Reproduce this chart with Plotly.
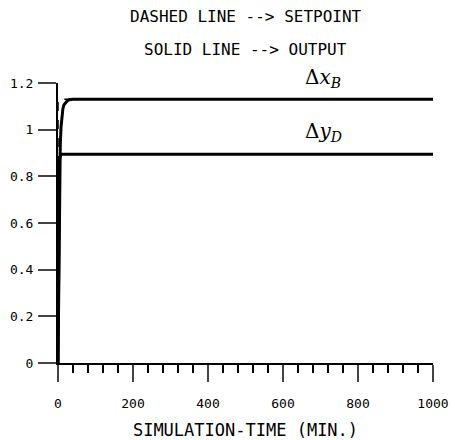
import plotly.graph_objects as go

# simulation time (min) and responses
time_out = [0, 1, 2, 3, 4, 5, 6, 8, 10, 13, 16, 20, 25, 30, 40, 60, 100, 300, 600, 1000]
xB_out = [0, 0.22, 0.42, 0.60, 0.74, 0.85, 0.93, 1.01, 1.06, 1.09, 1.107, 1.117, 1.124, 1.128, 1.13, 1.13, 1.13, 1.13, 1.13, 1.13]
yD_out = [0, 0.40, 0.67, 0.80, 0.865, 0.882, 0.89, 0.893, 0.895, 0.895, 0.895, 0.895, 0.895, 0.895, 0.895, 0.895, 0.895, 0.895, 0.895, 0.895]

time_sp = [0, 0, 1000]
xB_sp = [0, 1.13, 1.13]
yD_sp = [0, 0.895, 0.895]

x_ticks = [0, 200, 400, 600, 800, 1000]
y_ticks = [0, 0.2, 0.4, 0.6, 0.8, 1, 1.2]
y_ticklabels = ["0", "0.2", "0.4", "0.6", "0.8", "1", "1.2"]

mono = "DejaVu Sans Mono"

fig = go.Figure()
for y in (xB_out, yD_out):
    fig.add_trace(go.Scatter(x=time_out, y=y, mode="lines",
                             line=dict(color="black", width=3), showlegend=False))
for y in (xB_sp, yD_sp):
    fig.add_trace(go.Scatter(x=time_sp, y=y, mode="lines",
                             line=dict(color="black", width=1.5, dash="dash"), showlegend=False))

fig.update_layout(
    width=455, height=440,
    margin=dict(l=58, r=22, t=83, b=77),
    paper_bgcolor="white", plot_bgcolor="white",
    font=dict(family=mono, color="black", size=12),
    xaxis=dict(range=[0, 1000], tickvals=x_ticks, ticks="outside", ticklen=17, tickwidth=2,
               showline=True, linecolor="black", linewidth=2, showgrid=False, zeroline=False,
               automargin=False,
               tickfont=dict(family=mono, size=13), ticklabelstandoff=10,
               minor=dict(dtick=40, ticks="outside", ticklen=8, tickwidth=2, tickcolor="black", showgrid=False),
               title=dict(text="SIMULATION-TIME (MIN.)", font=dict(family=mono, size=17), standoff=16)),
    yaxis=dict(range=[0, 1.2], tickvals=y_ticks, ticktext=y_ticklabels, ticks="outside", ticklen=18,
               tickwidth=2, showline=True, linecolor="black", linewidth=2, showgrid=False, zeroline=False,
               automargin=False,
               tickfont=dict(family=mono, size=13), ticklabelstandoff=2),
    annotations=[
        dict(text="DASHED LINE --&gt; SETPOINT", x=0.5, xref="paper", y=1, yref="paper",
             yanchor="middle", showarrow=False, font=dict(family=mono, size=16)),
        dict(text="SOLID LINE --&gt; OUTPUT", x=0.5, xref="paper", y=1, yref="paper",
             yanchor="middle", showarrow=False, font=dict(family=mono, size=16)),
        dict(text="Δ<i>x</i><sub><i>B</i></sub>", x=707, y=1.13, yshift=21, yanchor="middle",
             showarrow=False, font=dict(family="DejaVu Serif", size=20)),
        dict(text="Δ<i>y</i><sub><i>D</i></sub>", x=707, y=0.895, yshift=22, yanchor="middle",
             showarrow=False, font=dict(family="DejaVu Serif", size=20)),
    ],
)
# position titles in pixel terms relative to plot area (height 280 px)
ph = 440 - 83 - 77
fig.layout.annotations[0].y = 1 + (83 - 17) / ph
fig.layout.annotations[1].y = 1 + (83 - 49) / ph

fig.write_html("out.html")
